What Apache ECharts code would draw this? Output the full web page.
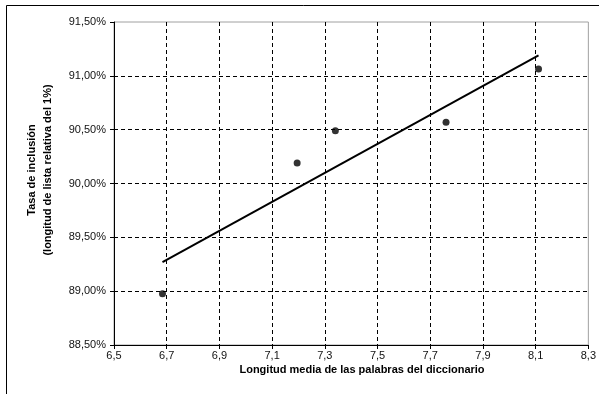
<!DOCTYPE html>
<html>
<head>
<meta charset="utf-8">
<script src="https://cdn.jsdelivr.net/npm/echarts@6/dist/echarts.min.js"></script>
<style>html,body{margin:0;padding:0;background:#fff;}#c{width:599px;height:394px;}</style>
</head>
<body>
<div id="c"></div>
<script>
var xValues = [6.684, 7.195, 7.340, 7.760, 8.111];
var yValues = [88.975, 90.19, 90.49, 90.57, 91.063];
var trendX = [6.684, 8.111];
var trendY = [89.27, 91.19];
var xAxisTitle = 'Longitud media de las palabras del diccionario';
var yAxisTitle = 'Tasa de inclusión\n(longitud de lista relativa del 1%)';

var points = xValues.map(function (x, i) { return [x, yValues[i]]; });
var trend = trendX.map(function (x, i) { return [x, trendY[i]]; });
var font = '"Liberation Sans", Arial, sans-serif';

var chart = echarts.init(document.getElementById('c'), null, {renderer: 'canvas'});
chart.setOption({
  animation: false,
  backgroundColor: '#fff',
  grid: {left: 114, top: 22, right: 8, bottom: 49, show: true, borderColor: '#a0a0a0', borderWidth: 1, backgroundColor: 'transparent'},
  xAxis: {
    type: 'value', min: 6.5, max: 8.3, interval: 0.2,
    axisLine: {show: true, onZero: false, lineStyle: {color: '#000', width: 1}},
    axisTick: {show: true, length: 4, lineStyle: {color: '#000'}},
    axisLabel: {color: '#111', fontFamily: font, fontSize: 11, margin: 5,
      formatter: function (v) { return v.toFixed(1).replace('.', ','); }},
    splitLine: {show: true, showMinLine: false, showMaxLine: false, lineStyle: {color: '#000', type: [4, 3], width: 1}}
  },
  yAxis: {
    type: 'value', min: 88.5, max: 91.5, interval: 0.5,
    axisLine: {show: true, onZero: false, lineStyle: {color: '#000', width: 1}},
    axisTick: {show: true, length: 4, lineStyle: {color: '#000'}},
    axisLabel: {color: '#111', fontFamily: font, fontSize: 11, margin: 8,
      formatter: function (v) { return v.toFixed(2).replace('.', ',') + '%'; }},
    splitLine: {show: true, showMinLine: false, showMaxLine: false, lineStyle: {color: '#000', type: [4, 3], width: 1}}
  },
  series: [
    {type: 'line', data: trend, symbol: 'none', lineStyle: {color: '#000', width: 2}, z: 3},
    {type: 'scatter', data: points, symbol: 'circle', symbolSize: 7, itemStyle: {color: '#000'}, z: 4}
  ],
  graphic: [
    {type: 'rect', shape: {x: 6.5, y: 5.5, width: 700, height: 500}, style: {fill: 'none', stroke: '#000', lineWidth: 1}, z: 10},
    {type: 'text', x: 40, y: 170, rotation: Math.PI / 2,
      style: {text: yAxisTitle, font: 'bold 11px ' + font, fill: '#000', textAlign: 'center', textVerticalAlign: 'middle', lineHeight: 16}},
    {type: 'text', x: 362, y: 370,
      style: {text: xAxisTitle, font: 'bold 11px ' + font, fill: '#000', textAlign: 'center', textVerticalAlign: 'middle'}}
  ]
});
</script>
</body>
</html>
